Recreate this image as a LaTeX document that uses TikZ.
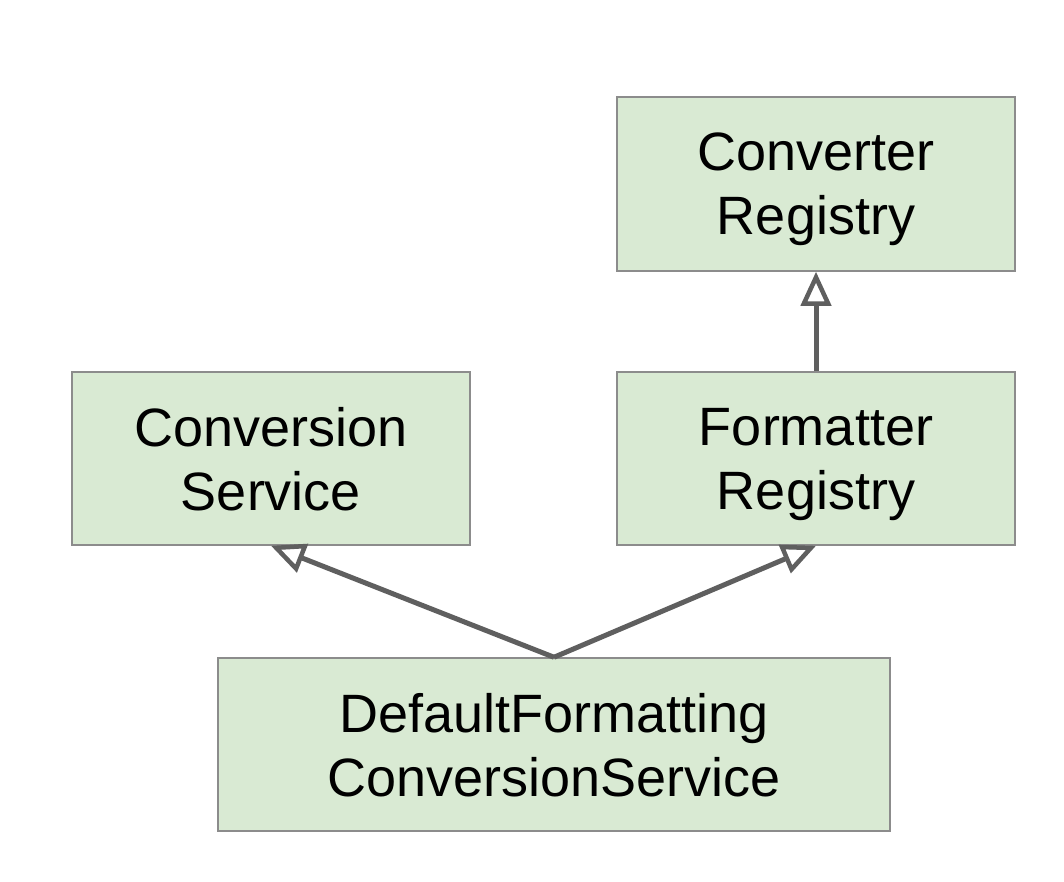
\documentclass[tikz,border=0pt]{standalone}
\usepackage{fontspec}
\setmainfont{Liberation Sans}
\usetikzlibrary{arrows.meta}
\definecolor{boxfill}{HTML}{D9EAD3}
\definecolor{boxline}{HTML}{8C8C8C}
\definecolor{arrowgray}{HTML}{5F5F5F}
\begin{document}
\begin{tikzpicture}[x=1pt,y=-1pt,
  umlbox/.style={draw=boxline, fill=boxfill, line width=1.5pt, rectangle,
    inner sep=0pt, align=center, text depth=0pt,
    font=\fontsize{54pt}{64pt}\selectfont},
  inherit/.style={draw=arrowgray, line width=5pt,
    -{Triangle[open, length=34pt, width=30pt, line width=4.5pt]}}
]
\useasboundingbox (0,0) rectangle (1064,882);
\fill[white] (0,0) rectangle (1064,882);
\node[umlbox, minimum width=398pt, minimum height=174pt] (cr) at (816,184) {Converter\\Registry};
\node[umlbox, minimum width=398pt, minimum height=173pt] (cs) at (271,458.5) {Conversion\\Service};
\node[umlbox, minimum width=398pt, minimum height=173pt] (fr) at (816,458.5) {Formatter\\Registry};
\node[umlbox, minimum width=672pt, minimum height=173pt] (dfcs) at (554,744.5) {DefaultFormatting\\ConversionService};
\draw[inherit] (fr.north) -- (cr.south);
\draw[inherit] (dfcs.north) -- (cs.south);
\draw[inherit] (dfcs.north) -- (fr.south);
\end{tikzpicture}
\end{document}
